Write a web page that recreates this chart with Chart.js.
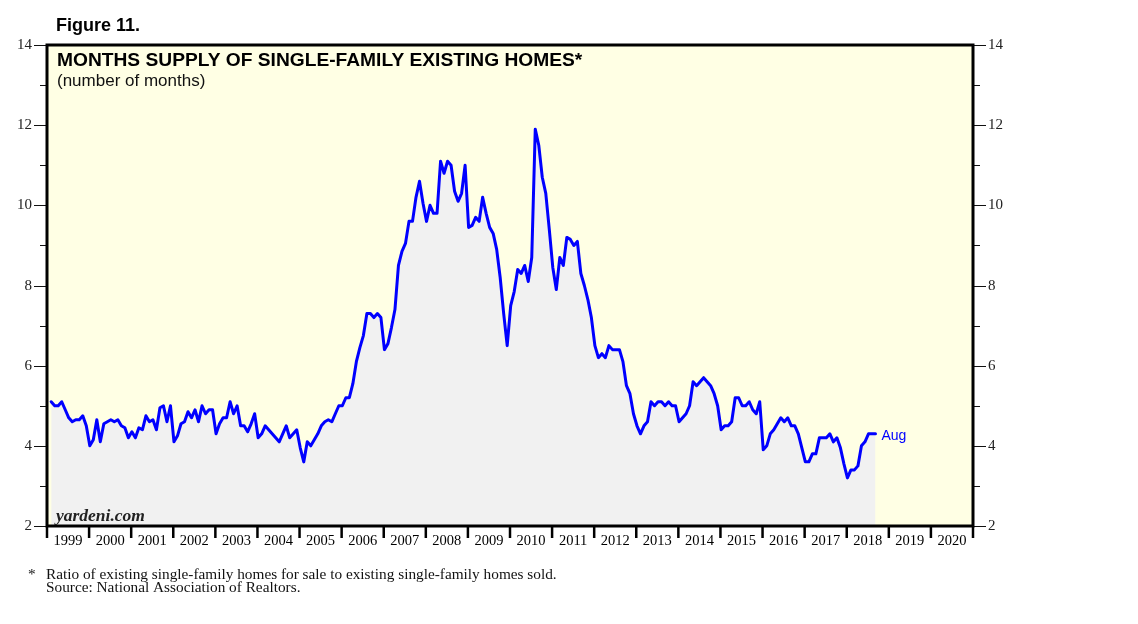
<!DOCTYPE html>
<html>
<head>
<meta charset="utf-8">
<script src="https://cdn.jsdelivr.net/npm/chart.js@4.4.1/dist/chart.umd.min.js"></script>
<style>
  html, body { margin: 0; padding: 0; background: #fff; }
  canvas { display: block; }
</style>
</head>
<body>
<canvas id="myChart" width="1138" height="624"></canvas>
<script>
const firstYear = 1999;
const yearLabels = ["1999", "2000", "2001", "2002", "2003", "2004", "2005", "2006", "2007", "2008",
  "2009", "2010", "2011", "2012", "2013", "2014", "2015", "2016", "2017", "2018", "2019", "2020"];
const yTicks = [2, 4, 6, 8, 10, 12, 14];
const yMinorTicks = [3, 5, 7, 9, 11, 13];

// monthly, Jan 1999 .. Aug 2018
const monthsSupply = [
  5.1, 5.0, 5.0, 5.1, 4.9, 4.7, 4.6, 4.65, 4.65, 4.75, 4.5, 4.0,     // 1999
  4.15, 4.65, 4.1, 4.55, 4.6, 4.65, 4.6, 4.65, 4.5, 4.45, 4.2, 4.35, // 2000
  4.2, 4.45, 4.4, 4.75, 4.6, 4.65, 4.4, 4.95, 5.0, 4.6, 5.0, 4.1,    // 2001
  4.25, 4.55, 4.6, 4.85, 4.7, 4.9, 4.6, 5.0, 4.8, 4.9, 4.9, 4.3,     // 2002
  4.55, 4.7, 4.7, 5.1, 4.8, 5.0, 4.5, 4.5, 4.35, 4.55, 4.8, 4.2,     // 2003
  4.3, 4.5, 4.4, 4.3, 4.2, 4.1, 4.3, 4.5, 4.2, 4.3, 4.4, 3.95,       // 2004
  3.6, 4.1, 4.0, 4.15, 4.3, 4.5, 4.6, 4.65, 4.6, 4.8, 5.0, 5.0,      // 2005
  5.2, 5.2, 5.55, 6.1, 6.45, 6.75, 7.3, 7.3, 7.2, 7.3, 7.2, 6.4,     // 2006
  6.55, 6.95, 7.4, 8.5, 8.85, 9.05, 9.6, 9.6, 10.2, 10.6, 10.05, 9.6, // 2007
  10.0, 9.8, 9.8, 11.1, 10.8, 11.1, 11.0, 10.35, 10.1, 10.3, 11.0, 9.45, // 2008
  9.5, 9.7, 9.6, 10.2, 9.8, 9.45, 9.3, 8.9, 8.2, 7.3, 6.5, 7.5,      // 2009
  7.85, 8.4, 8.3, 8.5, 8.1, 8.7, 11.9, 11.5, 10.7, 10.3, 9.4, 8.45,  // 2010
  7.9, 8.7, 8.5, 9.2, 9.15, 9.0, 9.1, 8.3, 8.0, 7.65, 7.2, 6.5,      // 2011
  6.2, 6.3, 6.2, 6.5, 6.4, 6.4, 6.4, 6.1, 5.5, 5.3, 4.8, 4.5,        // 2012
  4.3, 4.5, 4.6, 5.1, 5.0, 5.1, 5.1, 5.0, 5.1, 5.0, 5.0, 4.6,        // 2013
  4.7, 4.8, 5.0, 5.6, 5.5, 5.6, 5.7, 5.6, 5.5, 5.3, 5.0, 4.4,        // 2014
  4.5, 4.5, 4.6, 5.2, 5.2, 5.0, 5.0, 5.1, 4.9, 4.8, 5.1, 3.9,        // 2015
  4.0, 4.3, 4.4, 4.55, 4.7, 4.6, 4.7, 4.5, 4.5, 4.3, 3.95, 3.6,      // 2016
  3.6, 3.8, 3.8, 4.2, 4.2, 4.2, 4.3, 4.1, 4.2, 3.95, 3.55, 3.2,      // 2017
  3.4, 3.4, 3.5, 4.0, 4.1, 4.3, 4.3, 4.3                             // 2018
];
const lastLabel = "Aug";

const points = monthsSupply.map(function (v, i) {
  return { x: firstYear + (i + 1.2) / 12, y: v };
});

const frame = {
  id: "frame",
  beforeDraw(chart) {
    const ctx = chart.ctx;
    const a = chart.chartArea;
    ctx.save();
    ctx.fillStyle = "#ffffff";
    ctx.fillRect(0, 0, chart.width, chart.height);
    ctx.fillStyle = "#ffffe4";
    ctx.fillRect(a.left, a.top, a.right - a.left, a.bottom - a.top);
    ctx.restore();
  },
  afterDraw(chart) {
    const ctx = chart.ctx;
    const a = chart.chartArea;
    const xs = chart.scales.x;
    const ys = chart.scales.y;
    ctx.save();

    // y ticks, both sides
    ctx.strokeStyle = "#111";
    ctx.lineWidth = 1;
    ctx.fillStyle = "#222";
    ctx.font = "15px 'Liberation Serif', serif";
    ctx.textBaseline = "middle";
    yTicks.forEach(function (v) {
      const y = Math.round(ys.getPixelForValue(v)) + 0.5;
      ctx.beginPath();
      ctx.moveTo(a.left - 13, y); ctx.lineTo(a.left, y);
      ctx.moveTo(a.right, y); ctx.lineTo(a.right + 13, y);
      ctx.stroke();
      ctx.textAlign = "right";
      ctx.fillText(String(v), a.left - 15, y);
      ctx.textAlign = "left";
      ctx.fillText(String(v), a.right + 15, y);
    });
    yMinorTicks.forEach(function (v) {
      const y = Math.round(ys.getPixelForValue(v)) + 0.5;
      ctx.beginPath();
      ctx.moveTo(a.left - 7, y); ctx.lineTo(a.left, y);
      ctx.moveTo(a.right, y); ctx.lineTo(a.right + 7, y);
      ctx.stroke();
    });

    // year ticks and labels
    ctx.lineWidth = 2.5;
    ctx.strokeStyle = "#000";
    for (let k = 0; k <= yearLabels.length; k++) {
      const x = xs.getPixelForValue(firstYear + k);
      ctx.beginPath();
      ctx.moveTo(x, a.bottom); ctx.lineTo(x, a.bottom + 12);
      ctx.stroke();
    }
    ctx.fillStyle = "#000";
    ctx.font = "14.5px 'Liberation Serif', serif";
    ctx.textAlign = "center";
    yearLabels.forEach(function (lab, k) {
      ctx.fillText(lab, xs.getPixelForValue(firstYear + k + 0.5), a.bottom + 15);
    });

    // plot border
    ctx.lineWidth = 3;
    ctx.strokeRect(a.left, a.top, a.right - a.left, a.bottom - a.top);

    // titles
    ctx.textBaseline = "alphabetic";
    ctx.textAlign = "left";
    ctx.fillStyle = "#000";
    ctx.font = "bold 18px 'Liberation Sans', Arial, sans-serif";
    ctx.fillText("Figure 11.", 56, 31);
    ctx.font = "bold 19.2px 'Liberation Sans', Arial, sans-serif";
    ctx.fillText("MONTHS SUPPLY OF SINGLE-FAMILY EXISTING HOMES*", 57, 65.5);
    ctx.font = "17px 'Liberation Sans', Arial, sans-serif";
    ctx.fillStyle = "#111";
    ctx.fillText("(number of months)", 57, 86);

    ctx.font = "italic bold 17.5px 'Liberation Serif', serif";
    ctx.fillStyle = "#222";
    ctx.fillText("yardeni.com", 56, 521);

    // last value label
    const last = points[points.length - 1];
    ctx.font = "14px 'Liberation Sans', Arial, sans-serif";
    ctx.fillStyle = "#0000ff";
    ctx.textBaseline = "middle";
    ctx.fillText(lastLabel, xs.getPixelForValue(last.x) + 6, ys.getPixelForValue(last.y) + 2);

    // footnote
    ctx.textBaseline = "alphabetic";
    ctx.fillStyle = "#111";
    ctx.font = "15.3px 'Liberation Serif', serif";
    ctx.fillText("*", 28, 579);
    ctx.fillText("Ratio of existing single-family homes for sale to existing single-family homes sold.", 46, 578.5);
    ctx.fillText("Source: National Association of Realtors.", 46, 591.5);
    ctx.restore();
  }
};

const ctx = document.getElementById("myChart");
const myChart = new Chart(ctx, {
  type: "line",
  data: {
    datasets: [
      {
        label: "Months supply",
        data: points,
        borderColor: "#0000ff",
        borderWidth: 3,
        backgroundColor: "#f1f1f1",
        fill: "start",
        pointRadius: 0,
        tension: 0,
        borderJoinStyle: "round",
        borderCapStyle: "round"
      }
    ]
  },
  options: {
    responsive: false,
    animation: false,
    devicePixelRatio: 1,
    layout: { padding: { left: 47, top: 45, right: 165, bottom: 98 } },
    plugins: { legend: { display: false }, tooltip: { enabled: false } },
    scales: {
      x: { type: "linear", display: false, min: 1999, max: 2021 },
      y: { display: false, min: 2, max: 14 }
    }
  },
  plugins: [frame]
});
</script>
</body>
</html>
